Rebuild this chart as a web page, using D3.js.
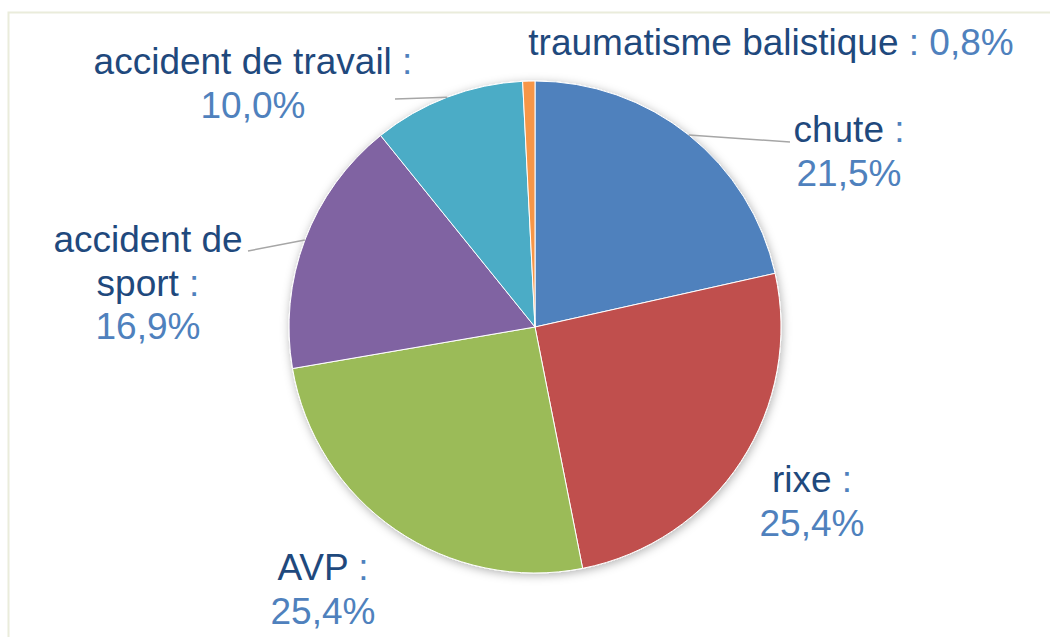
<!DOCTYPE html>
<html>
<head>
<meta charset="utf-8">
<script src="https://cdn.jsdelivr.net/npm/d3@7"></script>
<style>
  body { margin: 0; background: #fff; }
  svg { display: block; font-family: "Liberation Sans", Arial, sans-serif; }
</style>
</head>
<body>
<svg id="chart"></svg>
<script>
// data
const categories = ["chute", "rixe", "AVP", "accident de sport", "accident de travail", "traumatisme balistique"];
const values = [21.5, 25.4, 25.4, 16.9, 10.0, 0.8];
const colors = ["#4f81bd", "#c0504d", "#9bbb59", "#8064a2", "#4bacc6", "#f79646"];
// label text lines (last line gets the percentage)
const labelLines = [
  ["chute :"],
  ["rixe :"],
  ["AVP :"],
  ["accident de", "sport :"],
  ["accident de travail :"],
  ["traumatisme balistique :"]
];

// layout
const width = 1050, height = 637;
const cx = 535, cy = 327, radius = 246;
const fontSize = 37, lineH = 43.5;
// label anchor: center x, baseline of first line, inline = percent on same line, leader end point
const labelLayout = [
  {x: 849, y: 142, inline: false, leader: [790, 142]},
  {x: 812, y: 492, inline: false, leader: null},
  {x: 323, y: 580, inline: false, leader: null},
  {x: 148, y: 252, inline: false, leader: [248, 251]},
  {x: 253, y: 74, inline: false, leader: [395, 99]},
  {x: 771, y: 55, inline: true, leader: null}
];

const fmt = v => d3.format(".1f")(v).replace(".", ",") + "%";

const svg = d3.select("#chart")
  .attr("width", width)
  .attr("height", height);

// chart frame
svg.append("rect")
  .attr("x", 8.5).attr("y", 12.5)
  .attr("width", width).attr("height", height)
  .attr("fill", "none")
  .attr("stroke", "#eaecdb")
  .attr("stroke-width", 2);

const defs = svg.append("defs");
const filter = defs.append("filter")
  .attr("id", "shadow")
  .attr("x", "-20%").attr("y", "-20%")
  .attr("width", "140%").attr("height", "140%");
filter.append("feDropShadow")
  .attr("dx", 1).attr("dy", 2)
  .attr("stdDeviation", 5)
  .attr("flood-color", "#000")
  .attr("flood-opacity", 0.3);

const pie = d3.pie().sort(null).value(d => d)
  .startAngle(0).endAngle(2 * Math.PI);
const arcs = pie(values);

const arc = d3.arc().innerRadius(0).outerRadius(radius);
const edgeArc = d3.arc().innerRadius(radius).outerRadius(radius);

const g = svg.append("g")
  .attr("transform", "translate(" + cx + "," + cy + ")");

g.append("g")
  .attr("filter", "url(#shadow)")
  .selectAll("path")
  .data(arcs)
  .enter()
  .append("path")
  .attr("d", arc)
  .attr("fill", (d, i) => colors[i])
  .attr("stroke", "#fff")
  .attr("stroke-width", 1);

// leader lines
g.selectAll("line.leader")
  .data(arcs.filter((d, i) => labelLayout[i].leader))
  .enter()
  .append("line")
  .attr("class", "leader")
  .attr("x1", d => edgeArc.centroid(d)[0])
  .attr("y1", d => edgeArc.centroid(d)[1])
  .attr("x2", d => labelLayout[d.index].leader[0] - cx)
  .attr("y2", d => labelLayout[d.index].leader[1] - cy)
  .attr("stroke", "#a6a6a6")
  .attr("stroke-width", 1.5);

// labels
const labels = svg.append("g")
  .selectAll("text")
  .data(arcs)
  .enter()
  .append("text")
  .attr("text-anchor", "middle")
  .style("font-size", fontSize + "px");

labels.each(function(d, i) {
  const t = d3.select(this);
  const L = labelLayout[i];
  const lines = labelLines[i];
  lines.forEach((line, j) => {
    const name = line.replace(/ :$/, "");
    const hasColon = line !== name;
    const ts = t.append("tspan")
      .attr("x", L.x)
      .attr("y", L.y + j * lineH);
    ts.append("tspan").attr("fill", "#1f497d").text(name);
    if (hasColon) ts.append("tspan").attr("fill", "#4f81bd").text(" :");
    if (L.inline && j === lines.length - 1) {
      ts.append("tspan").attr("fill", "#4f81bd").text(" " + fmt(values[i]));
    }
  });
  if (!L.inline) {
    t.append("tspan")
      .attr("x", L.x)
      .attr("y", L.y + lines.length * lineH)
      .attr("fill", "#4f81bd")
      .text(fmt(values[i]));
  }
});
</script>
</body>
</html>
